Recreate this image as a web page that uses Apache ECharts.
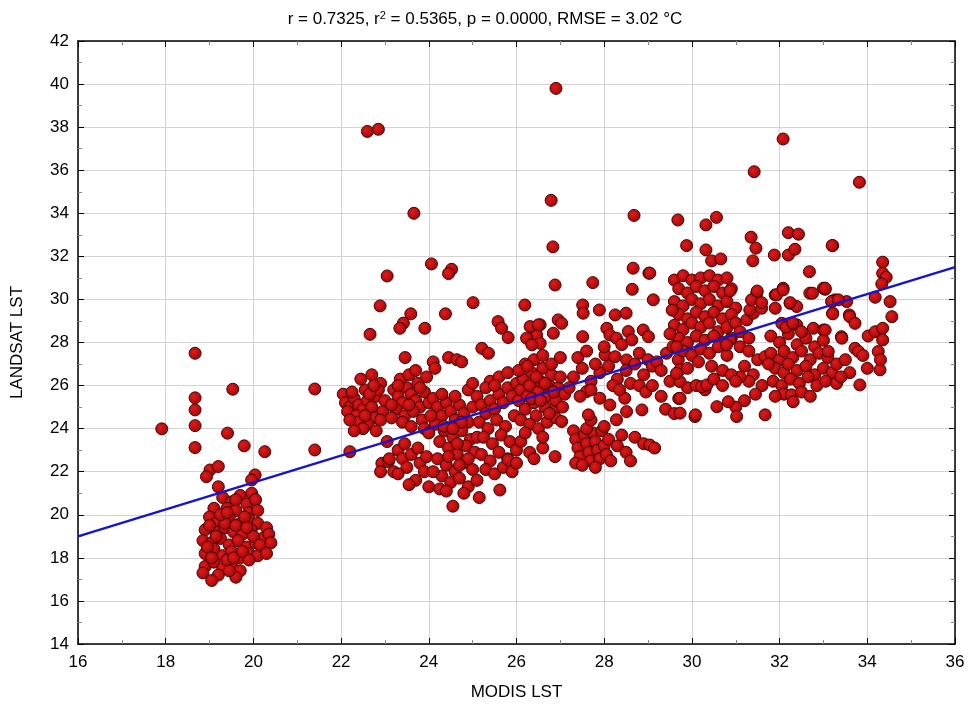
<!DOCTYPE html>
<html lang="en">
<head>
    <meta charset="UTF-8">
    <title>MODIS vs LANDSAT LST</title>
    <script src="https://cdn.jsdelivr.net/npm/echarts@6/dist/echarts.min.js"></script>
</head>
<body style="margin:0">
<div id="dom" style="width: 970px;height: 715px"></div>
<script>
    // points, grouped by cluster (MODIS LST, LANDSAT LST)
    var coldPoints = [
        [17.91,23.99],[18.67,27.5],[18.67,25.43],[18.67,24.87],[18.67,24.14],[18.67,23.12],[19.53,25.83],[19.41,23.79],[19.79,23.2],[20.26,22.93],
        [19.01,22.08],[19.2,22.24],[18.93,21.77],[20.04,21.85],[19.96,21.62],[19.96,21.0],
        [19.3,20.8],[19.5,20.6],[19.7,20.9],[19.85,20.5],[20.05,20.7],[19.1,20.3],[19.4,20.3],[19.6,20.2],[19.9,20.1],[20.1,20.2],
        [19.0,19.9],[19.2,19.7],[19.45,19.9],[19.7,19.6],[19.9,19.8],[20.1,19.6],[20.3,19.4],[18.9,19.3],[19.15,19.2],[19.35,19.4],
        [19.55,19.2],[19.75,19.1],[19.95,19.3],[20.2,18.9],[20.35,19.1],[18.85,18.8],[19.05,18.7],[19.25,18.9],[19.45,18.6],[19.65,18.8],
        [19.85,18.5],[20.05,18.7],[20.25,18.4],[18.9,18.2],[19.1,18.4],[19.3,18.1],[19.5,18.3],[19.7,18.0],[19.9,18.2],[20.1,18.1],
        [18.9,17.6],[19.1,17.8],[19.3,17.5],[19.5,17.7],[19.7,17.4],[19.9,17.9],[18.85,17.3],[19.2,17.2],[19.4,17.9],[19.05,16.95],
        [19.6,17.1],[19.35,19.6],[19.6,19.5],[19.8,19.9],[19.25,20.0],[19.55,18.0],[19.75,18.3],[18.95,18.5],[19.15,19.0],[20.0,19.0],
        [19.6,20.7],[19.4,20.1],[19.85,19.4],[20.15,18.6],[19.0,19.5],[19.45,17.4],[20.4,18.7],[19.2,21.3],[19.05,18.0],[20.3,18.2]
    ];
    var midPoints = [
        [21.4,25.84],[21.4,23.01],[22.2,22.93],[22.6,37.8],[22.85,37.9],[22.89,29.7],[22.66,28.38],[23.05,31.09],
        [22.05,25.6],[22.1,25.2],[22.2,25.0],[22.3,25.4],[22.15,24.8],[22.4,25.1],[22.5,24.9],[22.35,24.6],[22.6,25.3],[22.7,25.0],
        [22.8,25.5],[22.55,25.8],[22.45,26.3],[22.7,26.5],[22.9,26.1],[22.85,25.8],[22.95,24.8],[22.75,24.5],[22.6,24.2],[22.4,24.3],
        [22.25,25.7],[22.65,25.6],[23.0,25.3],[22.9,24.4],[22.5,24.0],[22.8,23.9],[22.3,23.9],[22.2,24.4],[22.75,26.0],[22.55,24.6],
        [22.93,22.39],[23.08,22.47],[22.9,22.0],[23.2,22.0],[23.1,22.6],[23.05,23.4],
        [23.2,25.8],[23.3,25.5],[23.4,25.2],[23.5,25.9],[23.6,25.6],[23.7,25.3],[23.8,25.0],[23.9,25.7],[23.35,26.3],[23.55,26.5],
        [23.75,26.1],[23.95,26.4],[23.25,24.9],[23.45,24.6],[23.65,24.8],[23.85,24.4],[23.15,25.1],[24.0,25.2],[23.3,26.0],[23.8,25.9],
        [23.4,24.3],[23.6,24.1],[23.9,24.0],[23.7,26.7],[23.55,25.1],[23.15,24.5],
        [23.3,23.0],[23.4,22.6],[23.5,22.2],[23.6,22.8],[23.7,21.6],[23.8,22.4],[23.9,22.0],[24.0,21.3],[23.45,23.3],[23.75,23.1],
        [23.95,22.7],[23.3,21.9],[23.55,21.4],
        [23.46,27.3],[23.42,28.9],[23.34,28.66],[23.91,28.66],[23.59,29.33],[23.66,34.0],[24.06,31.65],[24.52,31.4],[24.45,31.2],
        [24.38,29.33],[24.1,27.1],[24.14,26.8],
        [24.1,25.4],[24.2,25.0],[24.3,24.6],[24.4,25.2],[24.5,24.8],[24.6,24.4],[24.7,25.1],[24.8,24.7],[24.9,24.3],[25.0,25.0],
        [24.15,24.2],[24.35,23.9],[24.55,23.6],[24.75,23.9],[24.95,23.5],[24.25,23.4],[24.45,23.1],[24.65,22.8],[24.85,23.2],[25.05,22.9],
        [24.2,22.6],[24.4,22.3],[24.6,22.0],[24.8,22.4],[25.0,22.1],[24.3,21.8],[24.5,21.5],[24.7,21.7],[24.9,21.3],[25.1,21.6],
        [24.1,22.0],[24.25,21.2],[24.55,20.4],[24.8,21.0],[25.15,20.8],[24.0,23.8],[24.05,24.6],[24.35,24.1],[24.65,23.3],[24.9,22.6],
        [25.1,23.6],[24.45,22.7],[24.75,24.3],[24.6,25.5],[24.3,25.6],[24.9,25.8],[25.0,26.1],[24.45,27.3],[24.64,27.2],[24.75,27.1],
        [25.01,29.85],[24.55,24.0],[24.7,22.3],[24.4,21.1]
    ];
    var centrePoints = [
        [25.1,25.5],[25.2,25.1],[25.3,24.7],[25.4,25.3],[25.5,24.9],[25.6,25.6],[25.7,25.2],[25.8,25.9],[25.9,25.5],[26.0,26.1],
        [25.15,24.3],[25.35,24.0],[25.55,24.4],[25.75,24.1],[25.95,24.6],[25.25,23.6],[25.45,23.3],[25.65,23.7],[25.85,23.4],[25.2,22.8],
        [25.4,22.5],[25.6,22.9],[25.8,22.6],[26.0,23.0],[25.3,22.1],[25.5,21.9],[25.7,22.2],[25.4,26.2],[25.6,26.4],[25.8,26.6],
        [25.3,25.9],[25.5,26.0],[25.21,27.73],[25.36,27.5],[25.58,28.97],[25.66,28.66],[25.81,28.23],[25.81,22.55],[25.62,21.15],[25.9,22.0],
        [26.05,25.3],[26.1,25.8],[26.15,26.3],[26.2,24.9],[26.25,25.5],[26.3,26.0],[26.35,26.6],[26.4,25.2],[26.45,24.6],[26.5,25.7],
        [26.55,26.2],[26.6,26.8],[26.65,25.0],[26.7,25.5],[26.75,26.0],[26.8,26.5],[26.85,24.8],[26.9,25.3],[26.95,25.9],[27.0,26.4],
        [26.1,24.4],[26.3,24.2],[26.5,24.0],[26.7,24.3],[26.9,24.5],[26.2,27.0],[26.4,27.2],[26.6,27.4],[26.8,27.0],[27.0,27.3],
        [26.05,26.7],[26.25,26.9],[26.45,26.4],[26.65,26.1],[26.85,25.7],[27.05,25.0],[26.35,25.4],[26.55,25.3],[26.75,24.7],[27.1,25.6],
        [26.19,29.74],[26.54,28.82],[26.46,28.35],[26.54,27.96],[26.23,28.2],[26.35,27.89],[26.31,28.74],[26.5,28.82],[26.95,29.05],[27.03,28.89],
        [26.84,28.43],[26.88,30.67],[26.83,32.44],[26.79,34.6],[26.9,39.8],
        [26.1,23.4],[26.3,22.9],[26.6,23.1],[26.88,22.7],[26.4,22.6],[26.0,22.4],[27.03,24.33],[26.2,23.8],[26.6,23.6]
    ];
    var warmPoints = [
        [27.3,23.9],[27.35,23.5],[27.4,23.1],[27.45,22.7],[27.35,22.4],[27.55,23.7],[27.6,23.3],[27.65,22.9],[27.7,22.5],[27.75,23.8],
        [27.8,23.4],[27.85,23.0],[27.9,22.6],[27.95,23.9],[28.0,23.2],[28.05,22.8],[28.1,23.5],[28.15,22.5],[27.5,22.3],[27.8,22.2],
        [28.0,24.1],[27.6,24.0],[28.3,23.2],[28.5,22.9],[28.7,23.6],[28.9,23.3],[28.6,22.5],[29.04,23.24],[28.4,23.7],[27.7,24.4],
        [27.51,29.74],[27.52,29.36],[27.89,29.51],[28.25,29.28],[28.5,29.36],[28.06,28.66],[28.13,28.35],[28.28,28.2],[28.55,28.51],[28.63,28.12],
        [28.89,28.58],[29.01,28.27],[28.02,27.42],[28.25,27.34],[28.51,27.19],[27.51,28.27],[27.6,25.72],[27.64,24.64],[27.9,25.41],[28.13,25.1],
        [28.47,25.41],[28.51,24.79],[28.86,24.87],[28.28,24.41],
        [27.3,26.4],[27.5,26.8],[27.7,26.2],[27.9,26.6],[28.1,26.9],[28.3,26.3],[28.5,26.7],[28.7,27.0],[28.9,26.5],[27.4,27.3],
        [27.6,27.6],[27.8,27.0],[28.0,27.8],[28.2,26.0],[28.4,27.9],[28.6,26.1],[28.8,27.5],[29.0,27.2],[27.2,25.9],[27.45,25.5],
        [27.7,25.8],[28.35,25.8],[28.8,26.0],[28.95,25.7],
        [28.66,31.45],[29.02,31.22],[28.64,30.47],[27.74,30.78],[28.68,33.9],
        [29.1,26.0],[29.3,25.5],[29.5,26.2],[29.7,25.4],[29.9,25.9],[30.1,26.0],[30.3,25.8],[29.4,24.9],[29.6,24.7],[29.73,24.72],
        [30.07,24.56],[30.08,24.64],[29.73,25.41],[29.73,26.18],[30.22,25.95],[30.34,26.03],[29.1,26.9],[29.2,27.1],[29.3,26.7],[29.15,23.1],
        [29.12,29.98],[29.04,31.22],[29.42,27.5],[29.57,27.81],[29.69,27.19],[29.73,26.73],[29.65,26.57]
    ];
    var hotPoints = [
        [29.68,33.69],[30.32,33.46],[30.56,33.81],[29.88,32.5],[30.32,32.3],[30.45,31.79],[30.66,31.88],[31.42,35.93],[32.08,37.45],
        [31.35,32.89],[31.46,32.38],[32.2,33.1],[32.43,33.03],[33.21,32.5],[31.39,31.79],[31.88,32.06],[32.2,32.06],[32.35,32.33],[32.68,31.29],
        [29.6,30.9],[29.8,31.1],[30.0,30.9],[30.2,31.0],[30.4,31.1],[30.6,30.9],[30.8,31.0],
        [29.7,30.5],[29.9,30.3],[30.1,30.6],[30.3,30.4],[30.5,30.6],[30.7,30.3],[30.9,30.5],
        [29.6,29.9],[29.8,29.7],[30.0,30.0],[30.2,29.8],[30.4,30.0],[30.6,29.7],[30.8,29.9],[31.0,29.6],
        [29.7,29.3],[29.9,29.1],[30.1,29.4],[30.3,29.2],[30.5,29.4],[30.7,29.1],[30.9,29.3],
        [29.6,28.8],[29.8,28.6],[30.0,28.9],[30.2,28.7],[30.4,28.9],[30.6,28.5],[30.8,28.7],[31.0,28.9],
        [29.7,28.2],[29.9,28.0],[30.1,28.3],[30.3,28.1],[30.5,28.3],[30.7,28.0],[30.9,28.2],
        [29.8,27.6],[30.0,27.4],[30.2,27.7],[30.4,27.5],[30.6,27.8],[30.8,27.4],
        [29.5,28.4],[29.55,29.5],[29.65,27.8],[30.15,27.1],[30.45,26.9],[29.9,26.8],[30.7,26.7],
        [31.1,27.8],[31.3,27.6],[31.2,26.9],[31.4,26.5],[31.5,27.2],[31.6,26.0],[31.3,26.2],[31.1,26.4],[31.45,25.6],[31.2,25.3],
        [31.0,25.0],[31.67,24.64],[31.02,24.56],[30.83,25.25],[30.57,25.02],[31.25,29.05],[31.4,29.36],[31.32,29.51],[31.59,29.59],[31.48,30.29],
        [31.9,30.21],[31.36,29.98],[31.59,29.85],[31.49,30.39],[30.87,30.39],[31.1,28.5],[31.3,28.2],[30.87,28.12],[30.79,27.89],[31.67,27.34],
        [30.5,26.3],[30.7,26.0],[30.9,26.5],[31.0,26.2],
        [32.08,30.52],[32.24,29.82],[32.39,29.67],[32.69,30.29],[33.0,30.52],[33.26,29.98],[33.53,29.9],[31.93,30.21],[32.08,30.44],[32.24,29.85],
        [32.75,30.29],[33.04,30.47],[33.19,29.9],[33.59,29.28],[33.21,29.36],[31.9,29.59],
        [32.05,28.89],[32.24,28.74],[32.39,28.82],[32.77,28.66],[33.0,28.58],[33.41,28.27],
        [31.8,28.3],[32.0,28.0],[32.2,28.4],[32.4,27.9],[32.6,28.2],[32.8,27.8],[33.0,28.1],
        [31.8,27.5],[32.0,27.2],[32.1,27.6],[32.3,27.3],[32.5,27.6],[32.7,27.2],[32.9,27.5],[33.1,27.3],
        [31.9,26.8],[32.1,26.6],[32.2,27.0],[32.4,26.7],[32.6,26.9],[32.8,26.5],[33.0,26.8],[33.2,26.6],
        [31.85,26.2],[32.05,26.0],[32.25,26.3],[32.45,26.1],[32.65,26.4],[32.85,26.0],[33.05,26.2],[33.3,26.1],
        [32.1,25.6],[32.27,25.57],[32.31,25.25],[32.5,25.7],[32.7,25.5],[31.9,25.5],[32.15,28.7],[32.3,28.9],[32.5,28.5],[31.75,27.0],
        [33.82,35.44],[33.2,32.5],[34.35,31.73],[34.35,31.21],[34.43,31.03],[34.33,30.72],[34.18,30.1],[34.52,29.9],[34.56,29.2],[33.04,30.52],
        [33.19,29.9],[33.34,29.98],[33.21,29.33],[33.6,29.2],[33.72,28.89],[33.04,28.58],[33.42,28.2],[34.02,28.3],[34.18,28.5],[34.35,28.66],
        [34.35,28.12],[33.72,27.73],[33.8,27.58],[34.25,27.58],[33.11,27.58],
        [33.3,27.0],[33.5,27.2],[33.6,26.6],[33.83,26.03],[34.0,26.8],[34.29,26.73],[34.3,27.2],[33.9,27.4],[33.4,26.4]
    ];
    // fitted line endpoints
    var fitLine = [[16, 19.0], [36, 31.5]];
    var titleText = 'r = 0.7325, r{sup|2} = 0.5365, p = 0.0000, RMSE = 3.02 °C';

    var allPoints = coldPoints.concat(midPoints, centrePoints, warmPoints, hotPoints);

    var font = '"Liberation Sans Narrow", "Arial Narrow", "Liberation Sans", sans-serif';
    var gridLine = {show: true, lineStyle: {color: '#d4d4d4', width: 1}};
    var frame = {show: true, onZero: false, lineStyle: {color: '#000', width: 1.5}};
    var inTick = {show: true, inside: true, length: 6, lineStyle: {color: '#000'}};
    var inMinor = {show: true, splitNumber: 2, length: 4, lineStyle: {color: '#888'}};

    var myCharts = echarts.init(document.getElementById('dom'));
    var option = {
        backgroundColor: '#fff',
        animation: false,
        title: {
            text: titleText,
            left: 'center',
            top: 5,
            textStyle: {
                fontFamily: font, fontSize: 17, fontWeight: 'normal', color: '#000',
                rich: {sup: {fontFamily: font, fontSize: 11, verticalAlign: 'top', padding: [0, 0, 8, 0]}}
            }
        },
        grid: {left: 78, right: 15, top: 41, bottom: 71},
        xAxis: [{
            type: 'value', min: 16, max: 36, interval: 2,
            name: 'MODIS LST', nameLocation: 'middle', nameGap: 40,
            nameTextStyle: {fontFamily: font, fontSize: 17, color: '#000'},
            axisLine: frame, axisTick: inTick, minorTick: inMinor, splitLine: gridLine,
            axisLabel: {fontFamily: font, fontSize: 17, color: '#000', margin: 10}
        }, {
            type: 'value', min: 16, max: 36, interval: 2, position: 'top',
            axisLine: frame, axisTick: inTick, minorTick: inMinor,
            axisLabel: {show: false}, splitLine: {show: false}
        }],
        yAxis: [{
            type: 'value', min: 14, max: 42, interval: 2,
            name: 'LANDSAT LST', nameLocation: 'middle', nameGap: 52,
            nameTextStyle: {fontFamily: font, fontSize: 17, color: '#000'},
            axisLine: frame, axisTick: inTick, minorTick: inMinor, splitLine: gridLine,
            axisLabel: {fontFamily: font, fontSize: 17, color: '#000', margin: 9}
        }, {
            type: 'value', min: 14, max: 42, interval: 2, position: 'right',
            axisLine: frame, axisTick: inTick, minorTick: inMinor,
            axisLabel: {show: false}, splitLine: {show: false}
        }],
        series: [{
            type: 'scatter',
            data: allPoints,
            symbol: 'circle',
            symbolSize: 12,
            itemStyle: {
                color: {
                    type: 'radial', x: 0.4, y: 0.4, r: 0.6,
                    colorStops: [{offset: 0, color: '#e01a1a'}, {offset: 1, color: '#a00808'}]
                },
                borderColor: '#4a0000',
                borderWidth: 1,
                opacity: 1
            },
            z: 2
        }, {
            type: 'line',
            data: fitLine,
            symbol: 'none',
            lineStyle: {color: '#1515d0', width: 2.5},
            z: 3
        }]
    };
    myCharts.setOption(option);
</script>
</body>
</html>
